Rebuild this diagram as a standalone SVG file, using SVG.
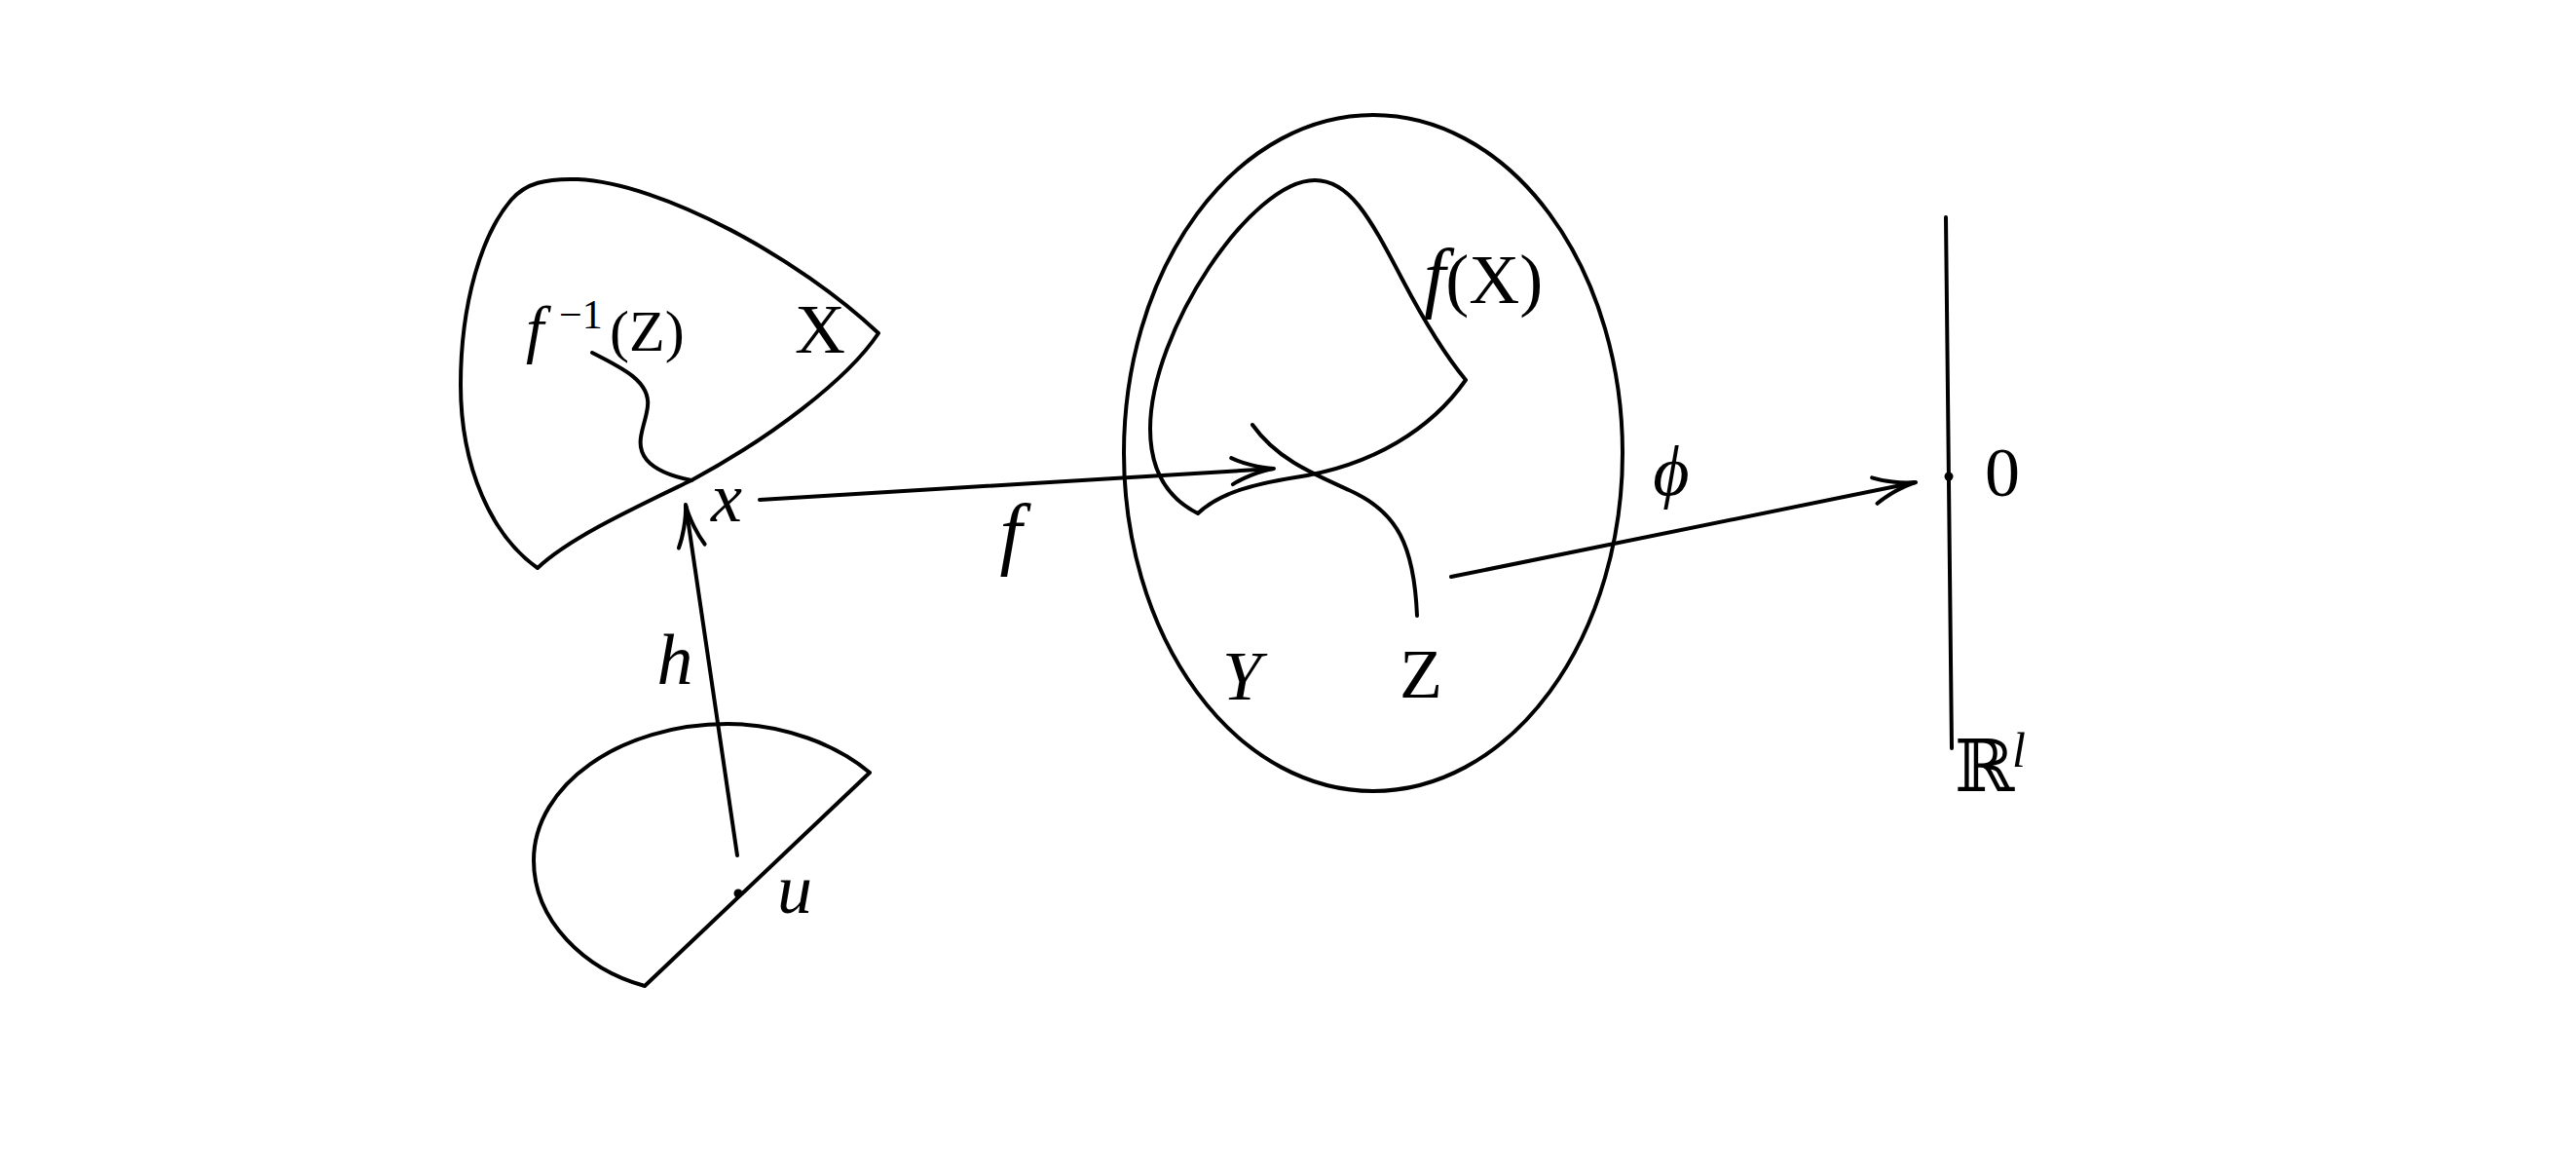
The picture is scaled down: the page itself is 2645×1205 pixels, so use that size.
<svg xmlns="http://www.w3.org/2000/svg" width="2645" height="1205" viewBox="0 0 2645 1205">
<style>
.ln{fill:none;stroke:#000;stroke-width:4;stroke-linecap:round;stroke-linejoin:round}
.t{font-family:"Liberation Serif","DejaVu Serif",serif;font-size:72px;fill:#000}
.i{font-style:italic}
.c{text-anchor:middle}
</style>
<defs>
<marker id="ah" markerUnits="userSpaceOnUse" refX="0" refY="0" markerWidth="60" markerHeight="40" orient="auto" overflow="visible">
<path d="M -43,-13.5 C -33,-8 -15,-1.5 0,0 C -15,1.5 -33,8 -43,13.5" fill="none" stroke="#000" stroke-width="4" stroke-linecap="round"/>
</marker>
</defs>
<rect width="2645" height="1205" fill="#fff"/>

<g id="nodeX">
<path class="ln" d="M 552,583 C 505,550 473,480 473,395 C 473,310 495,240 525,205 C 540,188 560,183 593,184 C 680,188 820,265 902,342 C 870,390 790,450 710,493 C 650,522 585,552 552,583 Z"/>
<path class="ln" d="M 608,362 C 640,378 668,392 665,417 C 663,437 650,455 664,472 C 675,485 695,490 710,493"/>
<text class="t" x="540" y="360" style="font-size:60px"><tspan class="i" style="font-size:66px">f</tspan><tspan x="574" y="337" style="font-size:42px">−1</tspan><tspan x="626" y="360">(Z)</tspan></text>
<text class="t c" x="842" y="362">X</text>
<text class="t i c" x="746" y="535">x</text>
</g>

<g id="nodeU">
<path class="ln" d="M 893,793 C 860,765 805,743 747,743 C 637,743 548,806 548,883 C 548,945 600,995 662,1012 Z"/>
<circle cx="758" cy="917" r="4.5" fill="#000"/>
<text class="t i c" x="816" y="937">u</text>
</g>

<g id="nodeY">
<ellipse class="ln" cx="1410" cy="465" rx="256" ry="347"/>
<path class="ln" d="M 1230,527 C 1200,512 1181,485 1181,440 C 1181,340 1285,185 1350,185 C 1385,185 1405,220 1440,287 C 1460,325 1480,360 1505,390 C 1470,440 1410,478 1330,490 C 1280,498 1250,508 1230,527 Z"/>
<path class="ln" d="M 1286,436 C 1310,470 1345,485 1385,503 C 1435,525 1452,560 1455,632"/>
<text class="t" x="1462" y="311"><tspan class="i" style="font-size:80px">f</tspan>(X)</text>
<text class="t i c" x="1275" y="718">Y</text>
<text class="t c" x="1459" y="716">Z</text>
</g>

<g id="nodeR">
<line class="ln" x1="1998" y1="223" x2="2004" y2="768"/>
<circle cx="2001" cy="489" r="4.5" fill="#000"/>
<text class="t c" x="2056" y="509">0</text>
<text class="t" x="2007" y="812" style="font-size:74px">ℝ<tspan class="i" x="2066" y="787" style="font-size:50px">l</tspan></text>
</g>

<g id="connectors">
<line class="ln" x1="780" y1="513" x2="1308" y2="481" marker-end="url(#ah)"/>
<line class="ln" x1="757" y1="878" x2="704" y2="518" marker-end="url(#ah)"/>
<line class="ln" x1="1490" y1="592" x2="1967" y2="495" marker-end="url(#ah)"/>
<text class="t i c" x="1038" y="574" style="font-size:82px">f</text>
<text class="t i c" x="693" y="702" style="font-size:74px">h</text>
<text class="t i c" x="1716" y="508">ϕ</text>
</g>
</svg>
